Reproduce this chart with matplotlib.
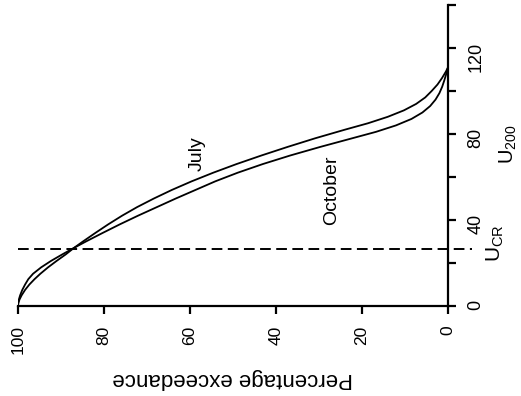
import matplotlib
matplotlib.use("Agg")
import matplotlib.pyplot as plt

plt.rcParams["font.family"] = ["Liberation Sans", "DejaVu Sans"]
plt.rcParams["mathtext.fontset"] = "custom"
plt.rcParams["mathtext.rm"] = "Liberation Sans"

# exceedance curves: percentage of time U200 is exceeded
july_u = [0, 1.5, 3, 5, 7.5, 10, 12.5, 15, 18, 21, 24, 27, 30, 34, 38, 42, 46,
          50, 54, 58, 62, 66, 70, 74, 78, 82, 85, 88, 91, 94, 97, 100, 103,
          106, 109, 111]
july_p = [100, 99.9, 99.65, 99.15, 98.35, 97.35, 96.15, 94.8, 93.0, 91.0,
          88.9, 87.0, 84.9, 82.0, 79.0, 75.8, 72.3, 68.4, 64.2, 59.6, 54.6,
          49.2, 43.4, 37.3, 30.9, 24.0, 18.6, 14.0, 10.25, 7.4, 5.3, 3.8,
          2.45, 1.4, 0.5, 0]

oct_u = [0, 1.5, 3, 5, 7.5, 10, 12.5, 15, 18, 21, 24, 27, 30, 34, 38, 42, 46,
         50, 54, 58, 62, 66, 70, 74, 78, 81, 84, 87, 90, 93, 96, 99, 102,
         105, 108, 111]
oct_p = [100, 99.95, 99.8, 99.5, 99.0, 98.35, 97.6, 96.5, 94.6, 92.3, 89.7,
         87.0, 84.2, 80.3, 76.3, 72.1, 67.7, 63.3, 58.7, 54.1, 48.9, 43.1,
         36.7, 29.7, 22.3, 16.75, 12.1, 8.5, 5.95, 4.15, 2.9, 2.0, 1.35,
         0.85, 0.4, 0]

u_cr = 26.5

p_ticks = [100, 80, 60, 40, 20, 0]
u_ticks = [0, 40, 80, 120]
u_minor = [20, 60, 100, 140]

fig = plt.figure(figsize=(5.21, 3.96), dpi=100)
ax = fig.add_axes([18 / 521, 90 / 396, 430 / 521, 301 / 396])

ax.plot(july_p, july_u, color="black", lw=1.3)
ax.plot(oct_p, oct_u, color="black", lw=1.3)
ax.plot([100, -5.6], [u_cr, u_cr], color="black", lw=1.4,
        dashes=(5.5, 2.8), clip_on=False)

ax.set_xlim(100, 0)
ax.set_ylim(0, 140)

for s in ["top", "left"]:
    ax.spines[s].set_visible(False)
for s in ["bottom", "right"]:
    ax.spines[s].set_linewidth(1.6)

ax.yaxis.tick_right()
ax.set_xticks(p_ticks)
ax.set_xticklabels([str(t) for t in p_ticks], rotation=90, fontsize=12.5)
ax.set_yticks(u_ticks)
ax.set_yticks(u_minor, minor=True)
ax.set_yticklabels([str(t) for t in u_ticks], rotation=90, fontsize=13)
ax.tick_params(axis="both", which="both", direction="out", length=6,
               width=1.6, pad=8)
ax.tick_params(axis="y", which="minor", right=True, left=False)

ax.text(58.4, 71, "July", rotation=90, ha="center", va="center", fontsize=14)
ax.text(27.0, 54, "October", rotation=90, ha="center", va="center", fontsize=14)
ax.text(-10.9, 29.3, r"$\mathrm{U}_{\mathrm{CR}}$", rotation=90,
        ha="center", va="center", fontsize=15, clip_on=False)
ax.text(-14.0, 75.3, r"$\mathrm{U}_{200}$", rotation=90,
        ha="center", va="center", fontsize=14.5, clip_on=False)
ax.text(50, -33.5, "Percentage exceedance", rotation=180,
        ha="center", va="center", fontsize=16, clip_on=False)

fig.savefig("out.png", dpi=100)
